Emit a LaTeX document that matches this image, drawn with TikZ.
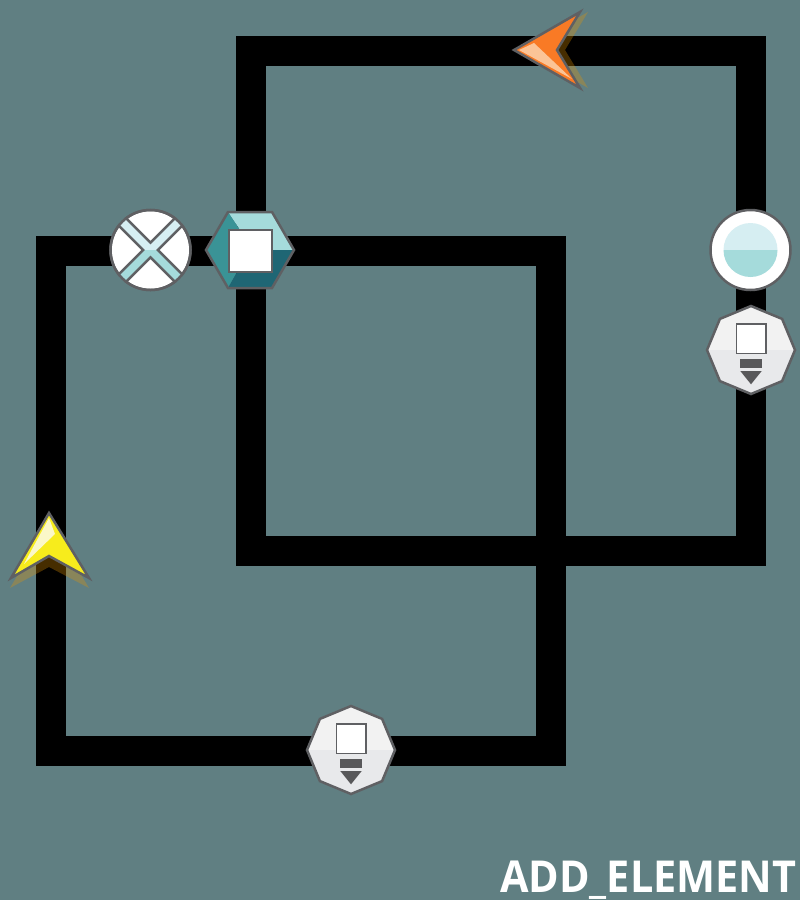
\documentclass[tikz,border=0pt]{standalone}
\usepackage{fontspec}
\setmainfont{Open Sans}[FakeStretch=0.94]
\definecolor{canvasbg}{HTML}{607F82}
\definecolor{symline}{HTML}{5F6063}
\definecolor{tealpale}{HTML}{D6EEF2}
\definecolor{teallight}{HTML}{A5DBDB}
\definecolor{tealmid}{HTML}{3A9396}
\definecolor{tealdark}{HTML}{1F6674}
\definecolor{valvetop}{HTML}{F2F2F2}
\definecolor{valvelow}{HTML}{E8E9EB}
\definecolor{valvedark}{HTML}{58585A}
\definecolor{arroworange}{HTML}{F97A25}
\definecolor{orangepale}{HTML}{FBC497}
\definecolor{arrowyellow}{HTML}{F7EC1C}
\definecolor{yellowpale}{HTML}{FBF8C8}
\definecolor{shadowtone}{HTML}{E99600}

\begin{document}
\begin{tikzpicture}[
    x=1pt, y=-1pt,
    wire/.style={line width=30pt, line cap=rect, black,
                 transform canvas={shift={(1pt,-1pt)}}},
    symedge/.style={draw=symline, line width=2.5pt, line join=miter},
    label/.style={font=\fontsize{44}{44}\selectfont\bfseries, text=white,
                  anchor=base west, inner sep=0pt},
    pics/mixer/.style={code={
        \fill[tealpale] (-40,0) arc[start angle=180, end angle=360, radius=40] -- cycle;
        \fill[teallight] (-40,0) arc[start angle=180, end angle=0, radius=40] -- cycle;
        \foreach \a in {0,90,180,270}
            \draw[symedge, fill=white, rotate=\a] (0,-7.3) -- (24.4,-31.7)
                arc[start angle=-52.4, end angle=-127.6, radius=40] -- cycle;
        \draw[symedge] (0,0) circle[radius=40];
    }},
    pics/drain/.style={code={
        \draw[symedge, fill=white] (0,0) circle[radius=40];
        \fill[tealpale] (-27,0) arc[start angle=180, end angle=360, radius=27] -- cycle;
        \fill[teallight] (-27,0) arc[start angle=180, end angle=0, radius=27] -- cycle;
    }},
    pics/hexa/.style={code={
        \fill[teallight] (-22,-38) -- (22,-38) -- (44,0) -- (22,0) -- (22,-20) -- (-10,-20) -- cycle;
        \fill[tealmid] (-44,0) -- (-22,-38) -- (-10,-20) -- (-13,22) -- (-22,38) -- cycle;
        \fill[tealdark] (44,0) -- (22,38) -- (-22,38) -- (-13,22) -- (22,22) -- (22,0) -- cycle;
        \draw[symedge] (-44,0) -- (-22,-38) -- (22,-38) -- (44,0) -- (22,38) -- (-22,38) -- cycle;
        \draw[symline, line width=2pt, fill=white] (-21.5,-20.5) rectangle (21.5,21.5);
    }},
    pics/valve/.style={code={
        \fill[valvetop] (-44,0) -- (-31.1,-31.1) -- (0,-44) -- (31.1,-31.1) -- (44,0) -- cycle;
        \fill[valvelow] (-44,0) -- (-31.1,31.1) -- (0,44) -- (31.1,31.1) -- (44,0) -- cycle;
        \draw[symedge] (-44,0) -- (-31.1,-31.1) -- (0,-44) -- (31.1,-31.1) -- (44,0)
            -- (31.1,31.1) -- (0,44) -- (-31.1,31.1) -- cycle;
        \draw[symline, line width=1.5pt, fill=white] (-14.5,-26) rectangle (15,3.5);
        \fill[valvedark] (-10.7,9.3) rectangle (10.7,18.3);
        \fill[valvedark] (-10.7,21) -- (10.7,21) -- (0,34.3) -- cycle;
    }}
]
\fill[canvasbg] (0,0) rectangle (800,900);
\useasboundingbox (0,0) rectangle (800,900);

% --- Corners ---
\coordinate (uppertl) at (250,50);
\coordinate (uppertr) at (750,50);
\coordinate (upperbr) at (750,550);
\coordinate (upperbl) at (250,550);
\coordinate (lowertl) at (50,250);
\coordinate (lowertr) at (550,250);
\coordinate (lowerbr) at (550,750);
\coordinate (lowerbl) at (50,750);

% --- Symbol positions ---
\coordinate (headleft) at (550,50);
\coordinate (headup) at (50,550);
\coordinate (mixer) at (150,250);
\coordinate (hexa) at (250,250);
\coordinate (drain) at (750,250);
\coordinate (valveright) at (750,350);
\coordinate (valvelower) at (350,750);

% --- Wires ---
\draw[wire] (uppertl) -- (headleft);
\draw[wire] (headleft) -- (uppertr);
\draw[wire] (uppertr) -- (drain);
\draw[wire] (drain) -- (valveright);
\draw[wire] (valveright) -- (upperbr);
\draw[wire] (upperbr) -- (upperbl);
\draw[wire] (upperbl) -- (hexa);
\draw[wire] (hexa) -- (uppertl);
\draw[wire] (lowertl) -- (mixer);
\draw[wire] (mixer) -- (hexa);
\draw[wire] (hexa) -- (lowertr);
\draw[wire] (lowertr) -- (lowerbr);
\draw[wire] (lowerbr) -- (valvelower);
\draw[wire] (valvelower) -- (lowerbl);
\draw[wire] (lowerbl) -- (headup);
\draw[wire] (headup) -- (lowertl);

% --- Symbols ---
\pic[xshift=0.5pt] at (mixer) {mixer};
\pic at (hexa) {hexa};
\pic[xshift=0.5pt] at (drain) {drain};
\pic[xshift=1pt] at (valveright) {valve};
\pic[xshift=1pt] at (valvelower) {valve};

% --- Orange head ---
\fill[shadowtone, fill opacity=0.3] (588,12) -- (565,50) -- (588,88) -- (522,50) -- cycle;
\fill[arroworange] (514,50) -- (580,12) -- (557,50) -- (580,88) -- cycle;
\fill[orangepale] (519,50) -- (534,43) -- (572,79) -- cycle;
\draw[symedge] (514,50) -- (580,12) -- (557,50) -- (580,88) -- cycle;

% --- Yellow head ---
\fill[shadowtone, fill opacity=0.3] (49,522) -- (10,588) -- (49,567) -- (89,588) -- cycle;
\fill[arrowyellow] (49,513) -- (11,578) -- (49,556) -- (89,578) -- cycle;
\fill[yellowpale] (49,518) -- (55,534) -- (24,564) -- cycle;
\draw[symedge] (49,513) -- (11,578) -- (49,556) -- (89,578) -- cycle;

% --- Title ---
\node[label] (title) at (500,892) {ADD\_ELEMENT};
\end{tikzpicture}
\end{document}
